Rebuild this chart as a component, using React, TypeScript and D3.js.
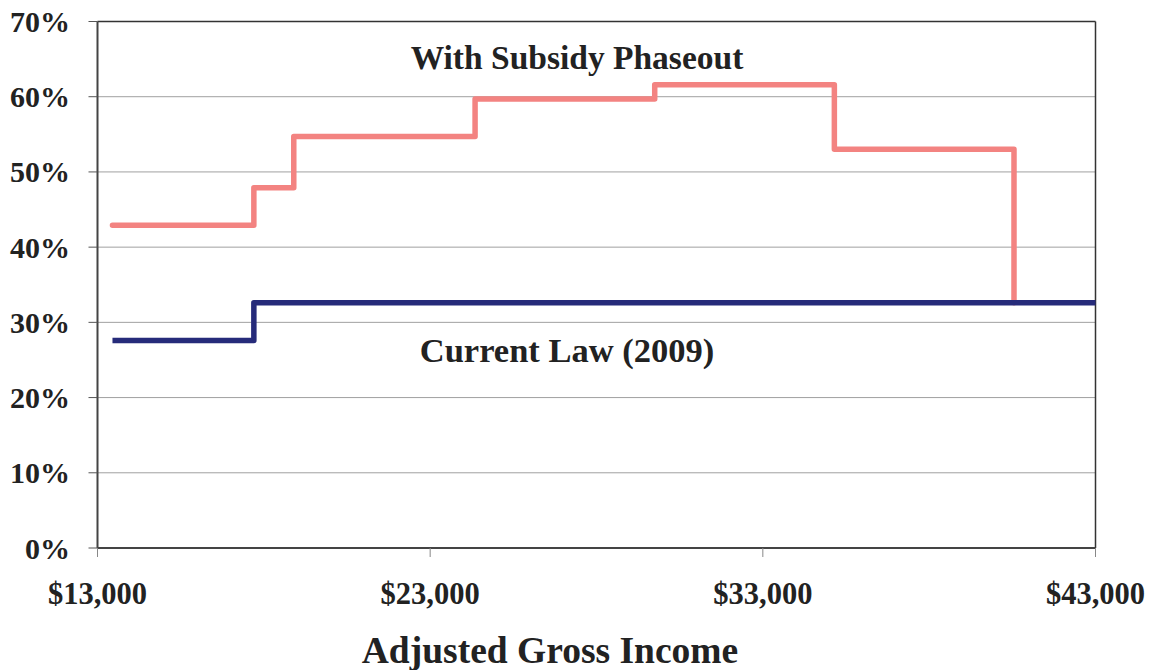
import React from "react";
import * as d3 from "d3";

const phaseoutIncome = [13450, 17700, 18900, 24350, 29750, 35150, 40550];
const phaseoutRate = [42.9, 47.9, 54.7, 59.7, 61.6, 53.0, 32.6];
const currentIncome = [13450, 17700, 43000];
const currentRate = [27.6, 32.6, 32.6];
const yTicks = [0, 10, 20, 30, 40, 50, 60, 70];
const xTicks = [13000, 23000, 33000, 43000];
const phaseoutLabel = "With Subsidy Phaseout";
const currentLabel = "Current Law (2009)";
const xTitle = "Adjusted Gross Income";

const W = 1151;
const H = 670;
const FONT = "'Liberation Serif', 'Times New Roman', serif";

export default function App() {
  const x = d3.scaleLinear().domain([13000, 43000]).range([97.5, 1095.5]);
  const y = d3.scaleLinear().domain([0, 70]).range([548, 21.5]);

  const line = d3
    .line<[number, number]>()
    .x((d) => x(d[0]))
    .y((d) => y(d[1]))
    .curve(d3.curveStepAfter);

  const pinkPts = phaseoutIncome.map((v, i) => [v, phaseoutRate[i]] as [number, number]);
  const bluePts = currentIncome.map((v, i) => [v, currentRate[i]] as [number, number]);
  const fmt = (v: number) => "$" + d3.format(",")(v);

  return (
    <svg
      width={W}
      height={H}
      style={{ position: "absolute", left: 0, top: 0, background: "#fff" }}
      fontFamily={FONT}
    >
      {yTicks.slice(1, -1).map((t) => (
        <line
          key={"g" + t}
          x1={x(13000)}
          x2={x(43000)}
          y1={y(t)}
          y2={y(t)}
          stroke="#a0a0a0"
          strokeWidth={1}
        />
      ))}
      <line x1={x(13000)} x2={x(43000)} y1={y(70)} y2={y(70)} stroke="#333" strokeWidth={1.5} />
      <line x1={x(43000)} x2={x(43000)} y1={y(70)} y2={y(0)} stroke="#333" strokeWidth={1.5} />
      <line x1={x(13000)} x2={x(13000)} y1={y(70)} y2={y(0)} stroke="#444" strokeWidth={2} />
      <line x1={x(13000)} x2={x(43000)} y1={y(0)} y2={y(0)} stroke="#444" strokeWidth={2} />
      {yTicks.map((t) => (
        <g key={"y" + t}>
          <line x1={x(13000) - 9} x2={x(13000)} y1={y(t)} y2={y(t)} stroke="#555" strokeWidth={1} />
          <text
            x={70}
            y={y(t) + 10.5}
            textAnchor="end"
            fontSize={30}
            fontWeight="bold"
            fill="#222"
          >
            {t + "%"}
          </text>
        </g>
      ))}
      {xTicks.map((t) => (
        <g key={"x" + t}>
          <line x1={x(t)} x2={x(t)} y1={y(0)} y2={y(0) + 9} stroke="#888" strokeWidth={1} />
          <text
            x={x(t)}
            y={604}
            textAnchor="middle"
            fontSize={30.5}
            fontWeight="bold"
            fill="#222"
          >
            {fmt(t)}
          </text>
        </g>
      ))}
      <path
        d={line(pinkPts) || ""}
        fill="none"
        stroke="#F38381"
        strokeWidth={5.5}
        strokeLinejoin="round"
        strokeLinecap="round"
      />
      <path
        d={line(bluePts) || ""}
        fill="none"
        stroke="#262B7A"
        strokeWidth={5.5}
        strokeLinejoin="round"
        strokeLinecap="butt"
      />
      <text x={577} y={69} textAnchor="middle" fontSize={33.5} fontWeight="bold" fill="#222">
        {phaseoutLabel}
      </text>
      <text x={567} y={362} textAnchor="middle" fontSize={34.5} fontWeight="bold" fill="#222">
        {currentLabel}
      </text>
      <text x={550} y={663} textAnchor="middle" fontSize={37.5} fontWeight="bold" fill="#222">
        {xTitle}
      </text>
    </svg>
  );
}
